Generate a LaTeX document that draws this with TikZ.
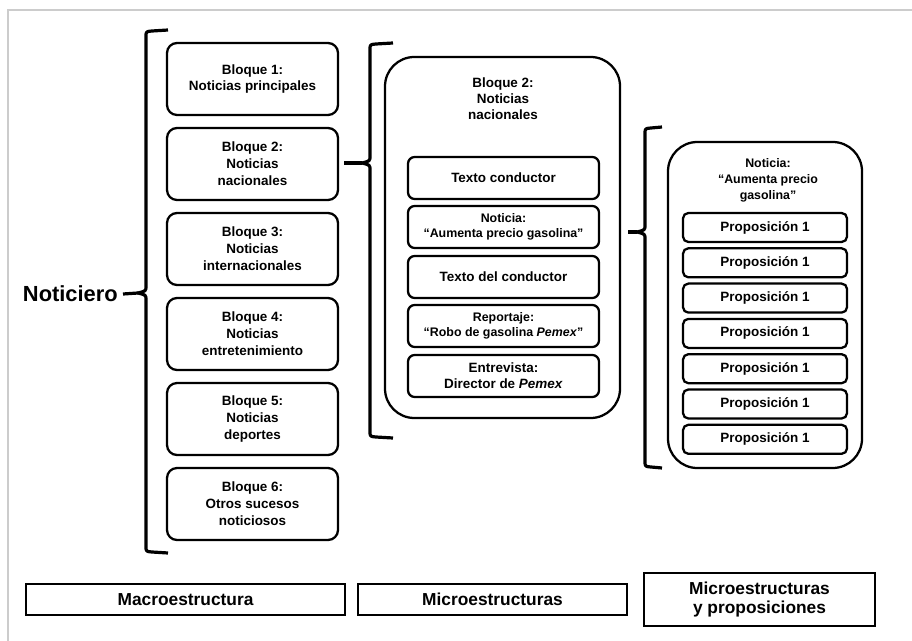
\documentclass[tikz,border=0pt]{standalone}
\usepackage{fontspec}
\setmainfont{Liberation Sans}
\newcommand\myfs[2]{\fontsize{#1}{#2}\selectfont\bfseries}
\begin{document}
\begin{tikzpicture}[x=0.75pt,y=-0.75pt,
  blk/.style={draw, line width=1.7pt, rounded corners=7.5pt, minimum width=128.25pt, minimum height=54pt, align=center, inner sep=0pt, font=\myfs{10.1}{12.7}},
  bigbox/.style={draw, line width=1.7pt, rounded corners=22pt, inner sep=0pt},
  inbox/.style={draw, line width=1.7pt, rounded corners=5pt, minimum width=143.25pt, minimum height=31.5pt, align=center, inner sep=0pt},
  propbox/.style={draw, line width=1.7pt, rounded corners=4pt, minimum width=123pt, minimum height=21.75pt, inner sep=0pt, font=\myfs{10.1}{12}},
  botbox/.style={draw, line width=1.7pt, inner sep=0pt, align=center, font=\myfs{13}{14.25}},
  ttl/.style={align=center, inner sep=0pt},
  brc/.style={line width=2.4pt, line join=round},
  con/.style={line width=2.4pt}
]
\fill[white] (0,0) rectangle (912,641);
\useasboundingbox (0,0) rectangle (912,641);
\draw[black!20, line width=1.2pt] (8,641) -- (8,10) -- (912,10);

% Noticiero
\node[anchor=east, inner sep=0pt, font=\myfs{16.4}{19}] (noticiero) at (118,294) {Noticiero};

% Column 1
\node[blk] (b1) at (252.5,79) {Bloque 1:\\Noticias principales};
\node[blk] (b2) at (252.5,164) {Bloque 2:\\Noticias\\nacionales};
\node[blk] (b3) at (252.5,249) {Bloque 3:\\Noticias\\internacionales};
\node[blk] (b4) at (252.5,334) {Bloque 4:\\Noticias\\entretenimiento};
\node[blk] (b5) at (252.5,419) {Bloque 5:\\Noticias\\deportes};
\node[blk] (b6) at (252.5,504) {Bloque 6:\\Otros sucesos\\noticiosos};

% Column 2
\node[bigbox, minimum width=176.25pt, minimum height=270.75pt] (bigtwo) at (502.5,237.5) {};
\node[ttl, font=\myfs{10.1}{12}] (ttwo) at (503,99) {Bloque 2:\\Noticias\\nacionales};
\node[inbox, font=\myfs{10.1}{12}] (i1) at (503.5,178) {Texto conductor};
\node[inbox, font=\myfs{9.3}{11}] (i2) at (503.5,227) {Noticia:\\“Aumenta precio gasolina”};
\node[inbox, font=\myfs{10.1}{12}] (i3) at (503.5,277) {Texto del conductor};
\node[inbox, font=\myfs{9.3}{11.25}] (i4) at (503.5,326) {Reportaje:\\“Robo de gasolina \textit{Pemex}”};
\node[inbox, font=\myfs{10.1}{12}] (i5) at (503.5,376) {Entrevista:\\Director de \textit{Pemex}};

% Column 3
\node[bigbox, minimum width=145.5pt, minimum height=244.5pt] (bigthree) at (765,305) {};
\node[ttl, font=\myfs{9.3}{12}] (tthree) at (768,180) {Noticia:\\“Aumenta precio\\gasolina”};
\foreach \k/\yy in {1/227.5,2/262.8,3/298.1,4/333.4,5/368.7,6/404,7/439.3}{
  \node[propbox] (p\k) at (765,\yy) {Proposición 1};
}

% Bottom labels
\node[botbox, minimum width=239.25pt, minimum height=23.25pt] (macro) at (185.5,599.5) {Macroestructura};
\node[botbox, minimum width=201.75pt, minimum height=23.25pt] (micro) at (492.5,599.5) {Microestructuras};
\node[botbox, line width=2.2pt, minimum width=173.25pt, minimum height=39.75pt] (microp) at (759.5,599.5) {Microestructuras\\y proposiciones};

% Braces
\coordinate (t1) at (138,293);
\coordinate (t2) at (362,163);
\coordinate (t3) at (637,232);
\draw[brc] (168,30) -- (152,31) .. controls (146,31.5) .. (146,37) -- (146,286)
  .. controls (146,291) .. (t1) .. controls (146,295) .. (146,300) -- (146,546)
  .. controls (146,551.5) .. (152,552) -- (168,553);
\draw[brc] (393,43) -- (376,44) .. controls (370,44.5) .. (370,50) -- (370,156)
  .. controls (370,161) .. (t2) .. controls (370,165) .. (370,170) -- (370,431)
  .. controls (370,436.5) .. (376,437) -- (393,438);
\draw[brc] (662,127) -- (651,128) .. controls (645,128.5) .. (645,134) -- (645,225)
  .. controls (645,230) .. (t3) .. controls (645,234) .. (645,239) -- (645,461)
  .. controls (645,466.5) .. (651,467) -- (662,468);

% Connectors
\draw[con] (noticiero.east) ++(5,0) -- (t1);
\draw[con] (b2.east |- t2) ++(5,0) -- (t2);
\draw[con] (bigtwo.east |- t3) ++(7,0) -- (t3);
\end{tikzpicture}
\end{document}
